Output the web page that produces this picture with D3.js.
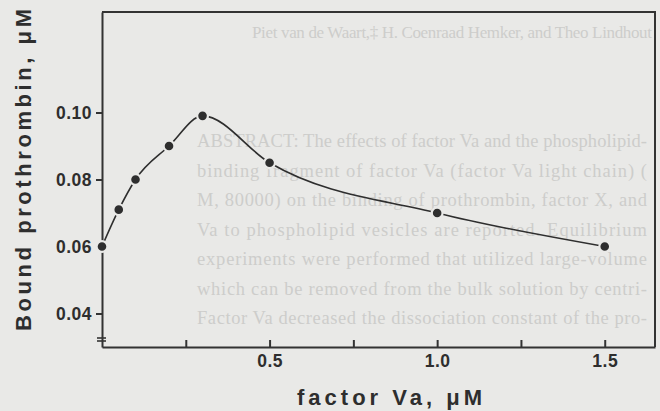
<!DOCTYPE html>
<html>
<head>
<meta charset="utf-8">
<script src="https://cdn.jsdelivr.net/npm/d3@7"></script>
<style>
  html, body { margin: 0; padding: 0; background: #e9e9e7; }
  svg { display: block; }
  .axis text { font-family: "Liberation Sans", Arial, sans-serif; font-weight: bold; font-size: 17.5px; letter-spacing: 0.5px; fill: #2e2e2e; }
  .axis path, .axis line { stroke: #333; stroke-width: 2; }
  .ghost { font-family: "Liberation Serif", "DejaVu Serif", serif; font-size: 18.5px; fill: #cdcdcb; }
</style>
</head>
<body>
<div id="chart"></div>
<script>
// data
let factorVa = [0, 0.05, 0.1, 0.2, 0.3, 0.5, 1.0, 1.5];
let boundProthrombin = [0.060, 0.071, 0.080, 0.090, 0.099, 0.085, 0.070, 0.060];
let yTicks = [0.04, 0.06, 0.08, 0.10];
let xTicks = [0.25, 0.5, 0.75, 1.0, 1.25, 1.5];
let xLabelled = [0.5, 1.0, 1.5];

// faint print-through from the other side of the page
let ghostTitle = "Piet van de Waart,‡ H. Coenraad Hemker, and Theo Lindhout";
let ghostLines = [
  "ABSTRACT: The effects of factor Va and the phospholipid-",
  "binding fragment of factor Va (factor Va light chain) (",
  "M, 80000) on the binding of prothrombin, factor X, and",
  "Va to phospholipid vesicles are reported. Equilibrium",
  "experiments were performed that utilized large-volume",
  "which can be removed from the bulk solution by centri-",
  "Factor Va decreased the dissociation constant of the pro-"
];

let W = 660, H = 411;
let margin = {top: 12, left: 102, bottom: 64, right: 5};

let svg = d3.select("#chart").append("svg")
    .attr("width", W)
    .attr("height", H);

// print-through text, set justified like the printed column
svg.append("text")
    .attr("class", "ghost")
    .style("font-size", "17px")
    .attr("x", 252).attr("y", 38)
    .attr("textLength", 400)
    .attr("lengthAdjust", "spacing")
    .text(ghostTitle);
svg.selectAll(".ghost-line")
    .data(ghostLines)
  .enter().append("text")
    .attr("class", "ghost ghost-line")
    .attr("x", 197)
    .attr("y", (d, i) => 147 + i * 29.5)
    .attr("textLength", 450)
    .attr("lengthAdjust", "spacing")
    .text(d => d);

let xScale = d3.scaleLinear()
    .domain([0, 1.65])
    .range([margin.left, W - margin.right]);

let yScale = d3.scaleLinear()
    .domain([0.03, 0.13])
    .range([H - margin.bottom, margin.top]);

let ink = "#2e2e2e";

// frame top and right
svg.append("path")
    .attr("d", `M${xScale(0)},${yScale(0.13)}H${xScale(1.65)}V${yScale(0.03)}`)
    .attr("fill", "none")
    .attr("stroke", "#333")
    .attr("stroke-width", 2);

// x axis, ticks point inwards
let xAxis = d3.axisBottom(xScale)
    .tickValues(xTicks)
    .tickSize(-7)
    .tickSizeOuter(0)
    .tickPadding(8)
    .tickFormat(d => xLabelled.includes(d) ? d3.format(".1f")(d) : "");

svg.append("g")
    .attr("class", "x axis")
    .attr("transform", `translate(0, ${yScale(0.03)})`)
    .call(xAxis);

// y axis
let yAxis = d3.axisLeft(yScale)
    .tickValues(yTicks)
    .tickSize(6)
    .tickSizeOuter(0)
    .tickPadding(4)
    .tickFormat(d3.format(".2f"));

svg.append("g")
    .attr("class", "y axis")
    .attr("transform", `translate(${xScale(0)}, 0)`)
    .call(yAxis);

// axis break on y
let by = yScale(0.03) - 9;
[0, 3].forEach(o => {
  svg.append("line")
      .attr("x1", xScale(0) - 5).attr("x2", xScale(0) + 4)
      .attr("y1", by + o).attr("y2", by + o)
      .attr("stroke", "#333").attr("stroke-width", 1.6);
});

// curve
let pts = factorVa.map((x, i) => ({x: x, y: boundProthrombin[i]}));

let line = d3.line()
    .x(d => xScale(d.x))
    .y(d => yScale(d.y))
    .curve(d3.curveMonotoneX);

svg.append("path")
    .datum(pts)
    .attr("fill", "none")
    .attr("stroke", ink)
    .attr("stroke-width", 1.6)
    .attr("d", line);

svg.selectAll(".dot")
    .data(pts)
  .enter().append("circle")
    .attr("class", "dot")
    .attr("cx", d => xScale(d.x))
    .attr("cy", d => yScale(d.y))
    .attr("r", 5.4)
    .attr("fill", ink)
    .attr("stroke", "#e9e9e7")
    .attr("stroke-width", 2.2);

// axis titles
svg.append("text")
    .attr("transform", "translate(31, 170) rotate(-90)")
    .attr("text-anchor", "middle")
    .attr("textLength", 322)
    .attr("lengthAdjust", "spacing")
    .style("font-family", "'Liberation Sans', Arial, sans-serif")
    .style("font-weight", "bold")
    .style("font-size", "22px")
    .style("fill", ink)
    .text("Bound prothrombin, μM");

svg.append("text")
    .attr("x", 297).attr("y", 405)
    .attr("textLength", 185)
    .attr("lengthAdjust", "spacing")
    .style("font-family", "'Liberation Sans', Arial, sans-serif")
    .style("font-weight", "bold")
    .style("font-size", "22px")
    .style("fill", ink)
    .text("factor Va,  μM");
</script>
</body>
</html>
